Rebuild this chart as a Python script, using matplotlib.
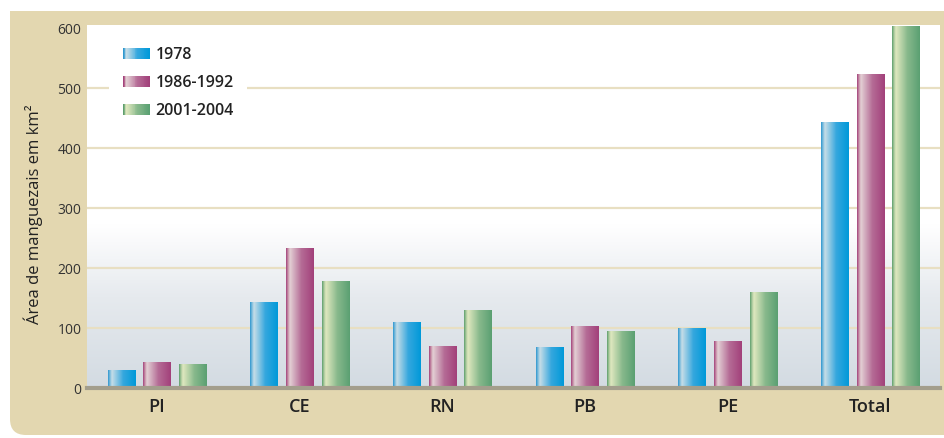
import matplotlib.pyplot as plt
import numpy as np
from matplotlib.colors import LinearSegmentedColormap
from matplotlib.patches import FancyBboxPatch, Rectangle
from matplotlib.legend_handler import HandlerBase

regions = ['PI', 'CE', 'RN', 'PB', 'PE', 'Total']
periods = ['1978', '1986-1992', '2001-2004']
area_1978 = [30, 143, 110, 68, 100, 443]
area_1986 = [43, 232, 70, 103, 78, 522]
area_2001 = [40, 177, 130, 95, 160, 603]

plt.rcParams['font.family'] = ['Open Sans', 'DejaVu Sans']

tan = '#e3d7b0'
cmaps = [
    LinearSegmentedColormap.from_list('b', [(0, '#2f98cf'), (0.07, '#7fbddd'), (0.14, '#c6dde7'),
                                            (0.55, '#35a7de'), (1, '#0099d9')]),
    LinearSegmentedColormap.from_list('m', [(0, '#a4437c'), (0.07, '#c790a8'), (0.14, '#e3cfd4'),
                                            (0.55, '#b56c96'), (1, '#a2407a')]),
    LinearSegmentedColormap.from_list('g', [(0, '#5f9f6e'), (0.07, '#a9c99c'), (0.14, '#dfe8bf'),
                                            (0.55, '#88b98c'), (1, '#5aa072')]),
]


class GradHandler(HandlerBase):
    def __init__(self, cmap):
        super().__init__()
        self.cmap = cmap

    def create_artists(self, legend, orig_handle, xdescent, ydescent, width, height, fontsize, trans):
        n = 30
        arts = []
        for i in range(n):
            r = Rectangle((-xdescent + width * i / n, -ydescent), width / n * 1.1, height,
                          facecolor=self.cmap(i / (n - 1)), edgecolor='none', transform=trans)
            arts.append(r)
        return arts


fig = plt.figure(figsize=(9.45, 4.38), dpi=100)
fig.patch.set_facecolor('white')

# tan panel behind everything
panel = FancyBboxPatch((0.10, 0.03), 9.6, 4.24, boxstyle='round,pad=0,rounding_size=0.16',
                       transform=fig.dpi_scale_trans, facecolor=tan, edgecolor='none', zorder=-10)
fig.patches.append(panel)
fig.patches.append(Rectangle((0.10, 2.0), 9.6, 2.27, transform=fig.dpi_scale_trans,
                             facecolor=tan, edgecolor='none', zorder=-10))

ax = fig.add_axes([87 / 945, 50 / 438, 853 / 945, 363 / 438])

# background gradient of the plot area
bg = LinearSegmentedColormap.from_list('bg', [(0, '#d3dbe2'), (0.25, '#e6eaee'), (0.45, '#ffffff'), (1, '#ffffff')])
ax.imshow(np.linspace(1, 0, 256).reshape(-1, 1), cmap=bg, extent=[0, 1, 0, 1], transform=ax.transAxes,
          aspect='auto', zorder=0, vmin=0, vmax=1)

x = np.arange(len(regions))
width = 0.19
offsets = [-0.25, 0, 0.25]
grad = np.linspace(0, 1, 128).reshape(1, -1)
handles = []
for vals, off, cm, lab in zip([area_1978, area_1986, area_2001], offsets, cmaps, periods):
    bars = ax.bar(x + off, vals, width, facecolor='none', edgecolor='none', zorder=3, label=lab)
    for b in bars:
        x0, y0, w, h = b.get_x(), b.get_y(), b.get_width(), b.get_height()
        ax.imshow(grad, cmap=cm, extent=[x0, x0 + w, y0, y0 + h], aspect='auto', zorder=3)
    handles.append(Rectangle((0, 0), 1, 1, label=lab))

ax.set_xlim(-0.49, len(regions) - 0.51)
ax.set_ylim(0, 605)
ax.set_xticks(x)
ax.set_xticklabels(regions, fontsize=13, fontweight='semibold', color='#222222')
ax.set_yticks(range(0, 601, 100))
ax.tick_params(axis='y', labelsize=10, colors='#333333', length=0, pad=4)
ax.tick_params(axis='x', length=0, pad=7)

ax.yaxis.grid(True, color='#e8dfc2', lw=1.6)
ax.set_axisbelow(True)
ax.get_ygridlines()[-1].set_visible(False)
ax.get_ygridlines()[0].set_visible(False)

for s in ['left', 'right', 'top']:
    ax.spines[s].set_visible(False)
ax.spines['bottom'].set_color('#a39e8c')
ax.spines['bottom'].set_linewidth(3)
ax.spines['bottom'].set_zorder(5)

ax.set_ylabel('Área de manguezais em km²', fontsize=12, color='#222222')
ax.yaxis.set_label_coords(-0.052, 0.48)

leg = ax.legend(handles=handles, labels=periods, loc='upper left', bbox_to_anchor=(0.026, 0.977),
                borderaxespad=0, borderpad=0.85, frameon=True, fancybox=False, framealpha=1,
                edgecolor='none', facecolor='white', handlelength=1.7, handleheight=0.75,
                handletextpad=0.35, labelspacing=0.76, prop={'size': 11.5, 'weight': 'semibold'},
                handler_map={h: GradHandler(c) for h, c in zip(handles, cmaps)})
for t in leg.get_texts():
    t.set_color('#222222')
leg.set_zorder(6)

fig.savefig('out.png', dpi=100)
